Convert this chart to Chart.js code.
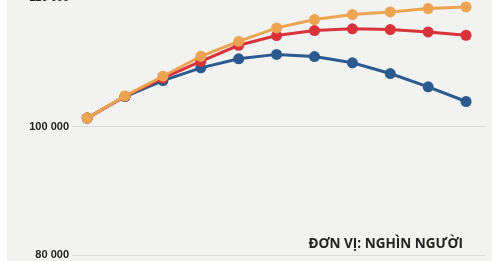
<!DOCTYPE html>
<html>
<head>
<meta charset="utf-8">
<script src="https://cdn.jsdelivr.net/npm/chart.js@4/dist/chart.umd.min.js"></script>
<style>
  html, body { margin: 0; padding: 0; background: #fff; overflow: hidden; }
  #wrap { position: absolute; left: 0; top: -2px; width: 497px; height: 263px; }
</style>
</head>
<body>
<div id="wrap"><canvas id="popChart" width="497" height="263"></canvas></div>
<script>
// Data (thousand people)
const steps = [0, 1, 2, 3, 4, 5, 6, 7, 8, 9, 10];
const lowSeries = [101300, 104650, 107130, 109100, 110500, 111190, 110850, 109880, 108220, 106150, 103880];
const midSeries = [101300, 104700, 107520, 110120, 112600, 114110, 114880, 115150, 115040, 114680, 114160];
const highSeries = [101300, 104750, 107800, 110900, 113220, 115300, 116590, 117360, 117780, 118290, 118560];
const yTicks = [80000, 100000, 120000];
const unitLabel = 'ĐƠN VỊ: NGHÌN NGƯỜI';

// where the 120 000 and 80 000 grid lines sit in the window
const topLineY = -2;
const bottomLineY = 256;

function toPoints(values) {
    return values.map((v, i) => ({ x: steps[i], y: v }));
}

function formatThousands(v) {
    return String(v).replace(/\B(?=(\d{3})+(?!\d))/g, ' ');
}

// Panel background and unit caption
const panelPlugin = {
    id: 'panel',
    beforeDraw(chart) {
        const ctx = chart.ctx;
        ctx.save();
        ctx.fillStyle = '#ffffff';
        ctx.fillRect(0, 0, chart.width, chart.height);
        ctx.fillStyle = '#f2f2f0';
        ctx.fillRect(7, 0, 485, chart.height);
        ctx.restore();
    },
    afterDraw(chart) {
        const ctx = chart.ctx;
        const wrapTop = parseFloat(document.getElementById('wrap').style.top) || -2;
        ctx.save();
        ctx.fillStyle = '#222222';
        ctx.font = 'bold 13.5px "Open Sans"';
        ctx.textAlign = 'right';
        ctx.textBaseline = 'alphabetic';
        ctx.fillText(unitLabel, 463, 248 - wrapTop);
        ctx.restore();
    }
};

function lineSet(label, values, color) {
    return {
        label: label,
        data: toPoints(values),
        borderColor: color,
        backgroundColor: color,
        pointBackgroundColor: color,
        pointBorderColor: color,
        borderWidth: 3,
        pointRadius: 5.5,
        pointBorderWidth: 0,
        tension: 0,
        fill: false
    };
}

const chart = new Chart(document.getElementById('popChart').getContext('2d'), {
    type: 'line',
    data: {
        datasets: [
            lineSet('Cao', highSeries, '#eca452'),
            lineSet('Trung bình', midSeries, '#d8323b'),
            lineSet('Thấp', lowSeries, '#2a5a8e')
        ]
    },
    options: {
        responsive: false,
        maintainAspectRatio: false,
        animation: false,
        layout: { padding: { top: 0, bottom: 3, left: 0, right: 12 } },
        plugins: {
            legend: { display: false },
            tooltip: { enabled: false }
        },
        scales: {
            x: {
                type: 'linear',
                min: -0.4,
                max: 10.5,
                display: false
            },
            y: {
                min: 80000,
                max: 120000,
                afterBuildTicks: function(scale) {
                    scale.ticks = yTicks.map(v => ({ value: v }));
                },
                afterFit: function(scale) {
                    scale.width = 72;
                },
                border: { display: false },
                grid: {
                    color: '#d9d9d9',
                    lineWidth: 1,
                    drawTicks: false
                },
                ticks: {
                    padding: 3,
                    color: '#222222',
                    font: { family: '"Liberation Sans", Arial', size: 11, weight: 'bold' },
                    callback: function(v) { return formatThousands(v); }
                }
            }
        }
    },
    plugins: [panelPlugin]
});

// shift and size the canvas so the y scale lands on the reference grid lines
(function fitToGrid() {
    const area = chart.chartArea;
    const gapTop = area.top;
    const gapBottom = chart.height - area.bottom;
    const newHeight = Math.round(gapTop + (bottomLineY - topLineY) + gapBottom);
    const wrap = document.getElementById('wrap');
    wrap.style.top = (topLineY - gapTop) + 'px';
    wrap.style.height = newHeight + 'px';
    chart.resize(497, newHeight);
})();
</script>
</body>
</html>
